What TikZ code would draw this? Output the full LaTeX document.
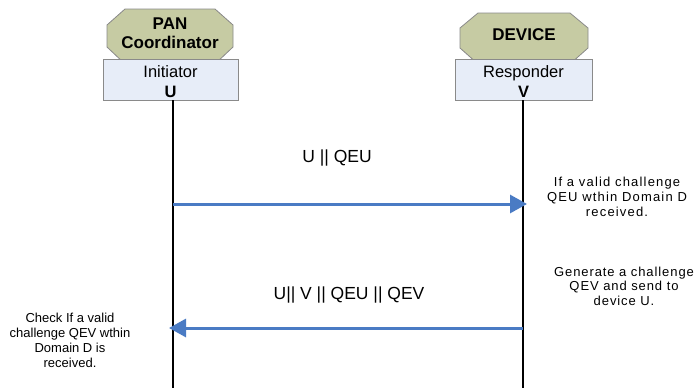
\documentclass[tikz,border=0pt]{standalone}
\usepackage{fontspec}
\setmainfont{Liberation Sans}
\newfontfamily\notefont[LetterSpace=9]{Liberation Sans}
\newfontfamily\notefontb[LetterSpace=7]{Liberation Sans}
\newfontfamily\notefontc{Liberation Sans}
\usetikzlibrary{arrows.meta}
\definecolor{octfill}{HTML}{C6CBA3}
\definecolor{boxfill}{HTML}{E7EDF8}
\definecolor{edgegray}{HTML}{8A8A8A}
\definecolor{msgblue}{HTML}{4A7BC4}
\tikzset{
  octo/.style={draw=edgegray, line width=0.8pt, fill=octfill},
  rolebox/.style={draw=edgegray, line width=0.8pt, fill=boxfill},
  lifeline/.style={draw=black, line width=1.6pt},
  msg/.style={draw=msgblue, line width=3pt, -{Triangle[length=17pt,width=18pt]}},
  titletxt/.style={font=\fontsize{17}{20}\selectfont\bfseries, align=center, inner sep=0pt},
  roletxt/.style={font=\fontsize{16.5}{20}\selectfont, align=center, inner sep=0pt},
  msgtxt/.style={font=\fontsize{17.5}{20}\selectfont, inner sep=0pt},
  notetxt/.style={align=center, inner sep=0pt},
}
\begin{document}
\begin{tikzpicture}[x=1pt,y=-1pt]
\useasboundingbox (0,0) rectangle (698,388);
\fill[white] (0,0) rectangle (698,388);
% octagons
\draw[octo] (125,9) -- (215,9) -- (233,25) -- (233,47) -- (215,64) -- (125,64) -- (107,47) -- (107,25) -- cycle;
\draw[octo] (478,13) -- (570,13) -- (588,28) -- (588,48) -- (570,64) -- (478,64) -- (460,48) -- (460,28) -- cycle;
% role boxes
\draw[rolebox] (103,59) rectangle (238,100);
\draw[rolebox] (455,59) rectangle (592,100);
\node[titletxt] (pan) at (170,33) {PAN\\[-1pt]Coordinator};
\node[titletxt] (dev) at (524,35) {DEVICE};
\node[roletxt] (ub) at (170.5,82) {Initiator\\\textbf{U}};
\node[roletxt] (vb) at (523.5,82) {Responder\\\textbf{V}};
% lifelines
\coordinate (utop) at (173,100);
\coordinate (vtop) at (523,100);
\coordinate (ubot) at (173,388);
\coordinate (vbot) at (523,388);
\draw[lifeline] (utop) -- (ubot);
\draw[lifeline] (vtop) -- (vbot);
% messages
\coordinate (m1s) at (173,204);
\coordinate (m1e) at (527,204);
\coordinate (m2s) at (523,328);
\coordinate (m2e) at (169,328);
\draw[msg] (m1s) -- (m1e);
\draw[msg] (m2s) -- (m2e);
\node[msgtxt] (l1) at (337,158) {U || QEU};
\node[msgtxt] (l2) at (349,295) {U|| V || QEU || QEV};
% notes
\node[notetxt, font=\notefont\fontsize{13}{15}\selectfont] (n1) at (617,197) {If a valid challenge\\QEU wthin Domain D\\received.};
\node[notetxt, font=\notefontb\fontsize{13}{14.5}\selectfont] (n2) at (624,286) {Generate a challenge\\QEV and send to\\device U.};
\node[notetxt, font=\notefontc\fontsize{13}{15}\selectfont] (n3) at (70,340) {Check If a valid\\challenge QEV wthin\\Domain D is\\received.};
\end{tikzpicture}
\end{document}
